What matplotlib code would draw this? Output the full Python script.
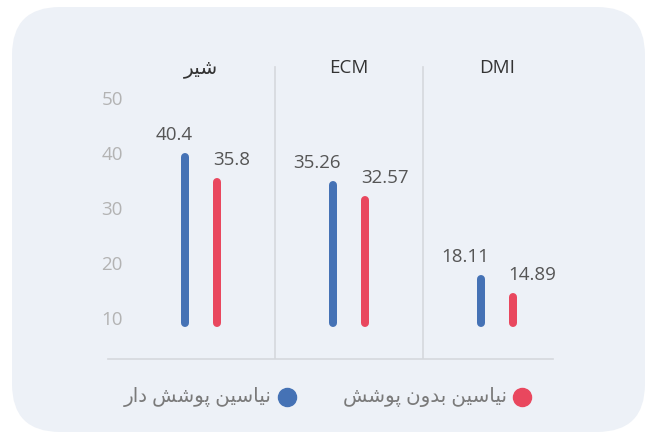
import matplotlib
matplotlib.use('Agg')
import matplotlib.pyplot as plt
from matplotlib.patches import FancyBboxPatch
from matplotlib.transforms import IdentityTransform, blended_transform_factory
from matplotlib.lines import Line2D


# ------------------------------------------------------- #
# Datos

groups = ['شیر', 'ECM', 'DMI']
coated = [40.4, 35.26, 18.11]        # نیاسین پوشش دار
uncoated = [35.8, 32.57, 14.89]      # نیاسین بدون پوشش
coated_labels = ['40.4', '35.26', '18.11']
uncoated_labels = ['35.8', '32.57', '14.89']
yticks = [10, 20, 30, 40, 50]
legend_names = ['نیاسین پوشش دار', 'نیاسین بدون پوشش']


# ------------------------------------------------------- #
# Forma de las letras persas (matplotlib no une letras arabes)

FORMS = {
    'ا': ('\uFE8D', '\uFE8E', None, None),
    'ب': ('\uFE8F', '\uFE90', '\uFE91', '\uFE92'),
    'پ': ('\uFB56', '\uFB57', '\uFB58', '\uFB59'),
    'د': ('\uFEA9', '\uFEAA', None, None),
    'ر': ('\uFEAD', '\uFEAE', None, None),
    'س': ('\uFEB1', '\uFEB2', '\uFEB3', '\uFEB4'),
    'ش': ('\uFEB5', '\uFEB6', '\uFEB7', '\uFEB8'),
    'ن': ('\uFEE5', '\uFEE6', '\uFEE7', '\uFEE8'),
    'و': ('\uFEED', '\uFEEE', None, None),
    'ی': ('\uFBFC', '\uFBFD', '\uFBFE', '\uFBFF'),
}


def shape(s):
    if not any(c in FORMS for c in s):
        return s
    out = []
    for i, c in enumerate(s):
        if c not in FORMS:
            out.append(c)
            continue
        f = FORMS[c]
        prev = s[i - 1] if i > 0 else ''
        nxt = s[i + 1] if i + 1 < len(s) else ''
        join_prev = prev in FORMS and FORMS[prev][2] is not None
        join_next = nxt in FORMS and f[2] is not None
        if join_prev and join_next:
            out.append(f[3])
        elif join_prev:
            out.append(f[1])
        elif join_next:
            out.append(f[2])
        else:
            out.append(f[0])
    # End for
    return ''.join(reversed(out))


# ------------------------------------------------------- #
# Figura

BLUE = '#4572b5'
RED = '#e9475e'
FAM = ['Open Sans', 'DejaVu Sans']
W, H = 648, 434

fig = plt.figure(figsize=(W / 100, H / 100), dpi=100)
fig.patch.set_facecolor('white')

# fondo redondeado
bg = FancyBboxPatch(
    (12, 2), 633, 425,
    boxstyle='round,pad=0,rounding_size=48',
    transform=IdentityTransform(),
    facecolor='#edf1f7', edgecolor='none', zorder=-10)
fig.patches.append(bg)

ax = fig.add_axes([108 / W, 75 / H, 445 / W, 295 / H])
ax.set_facecolor('none')
ax.set_xlim(-0.63, 2.38)
ax.set_ylim(2.9, 56.5)
for s in ax.spines.values():
    s.set_visible(False)
ax.set_xticks([])
ax.set_yticks([])

# linea base y separadores
ax.axhline(2.9, color='#d5d8dd', lw=1.2, zorder=1, clip_on=False)
for xs in [0.5, 1.5]:
    ax.axvline(xs, ymin=0, ymax=0.99, color='#d5d8dd', lw=1.2, zorder=1)

# etiquetas del eje y
ytrans = ax.get_yaxis_transform()
for t in yticks:
    ax.text(0.009, t, str(t), transform=ytrans, ha='center', va='center',
            fontsize=13.5, color='#b3b3b3', family=FAM)

# titulos de grupo
ttrans = blended_transform_factory(ax.transData, ax.transAxes)
for i, g in enumerate(groups):
    fs = 14.5 if shape(g) != g else 13.5
    ax.text(i, 0.986, shape(g), transform=ttrans, ha='center', va='center',
            fontsize=fs, color='#333333', family=FAM)

# barras (lineas con extremos redondeados)
base = 8.7
lw_px = 8
cap = (lw_px / 2) / (295 / (56.5 - 2.9))
off = 0.108
for i in range(len(groups)):
    for val, lab, col, dx, ha, xo in [
            (coated[i], coated_labels[i], BLUE, -off, 'right', 8),
            (uncoated[i], uncoated_labels[i], RED, off, 'left', -4)]:
        ax.plot([i + dx, i + dx], [base + cap, val - cap], color=col,
                lw=lw_px * 0.72, solid_capstyle='round', zorder=3)
        ax.annotate(lab, (i + dx, val), xytext=(xo, 9),
                    textcoords='offset pixels', ha=ha, va='bottom',
                    fontsize=13.5, color='#555555', family=FAM)
    # End for
# End for

# leyenda
for name, col, cx, tx in [(legend_names[0], BLUE, 287, 272),
                          (legend_names[1], RED, 522, 507)]:
    fig.add_artist(Line2D([cx / W], [(H - 397) / H], marker='o', ms=13,
                          color=col, linestyle='', transform=fig.transFigure))
    fig.text(tx / W, (H - 397) / H, shape(name), ha='right', va='center',
             fontsize=14.3, color='#7a7a7a', family=FAM)
# End for

plt.savefig('out.png', dpi=100, facecolor='white')
